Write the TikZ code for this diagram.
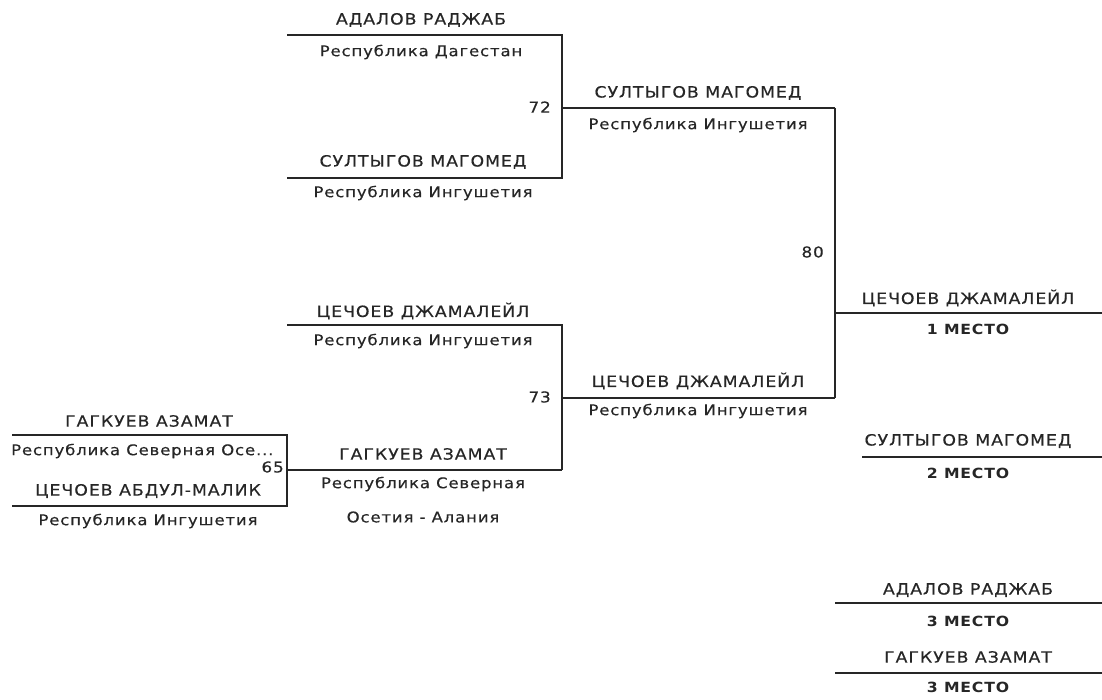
\documentclass[tikz,border=0pt]{standalone}
\usepackage{fontspec}
\setmainfont[FakeStretch=1.12, LetterSpace=6, UprightFeatures={FakeBold=0.35}]{DejaVu Sans}
\begin{document}
\begin{tikzpicture}[x=1pt,y=-1pt,
  bline/.style={line width=1.8pt, color=black!85},
  nm/.style={font=\fontsize{15.5}{16}\selectfont, inner sep=0pt, anchor=center, text=black!85},
  sub/.style={font=\fontsize{14.7}{15}\selectfont, inner sep=0pt, anchor=center, text=black!85},
  plc/.style={font=\bfseries\fontsize{14}{15}\selectfont, inner sep=0pt, anchor=center, text=black!85},
  score/.style={font=\fontsize{15}{16}\selectfont, inner sep=0pt, anchor=east, text=black!85}]
\useasboundingbox (0,0) rectangle (1102,700);
% coordinates
\coordinate (r1a) at (12,435);  \coordinate (r1ae) at (287,435);
\coordinate (r1b) at (12,506);  \coordinate (r1be) at (287,506);
\coordinate (r1o) at (287,470);
\coordinate (qa) at (287,35);   \coordinate (qae) at (562,35);
\coordinate (qb) at (287,178);  \coordinate (qbe) at (562,178);
\coordinate (qo) at (562,108);
\coordinate (qc) at (287,325);  \coordinate (qce) at (562,325);
\coordinate (qd) at (562,470);
\coordinate (qo2) at (562,398);
\coordinate (sa) at (835,108);  \coordinate (sb) at (835,398);
\coordinate (so) at (835,313);  \coordinate (fe) at (1102,313);
\coordinate (p2a) at (862,457); \coordinate (p2b) at (1102,457);
\coordinate (p3a) at (835,603); \coordinate (p3b) at (1102,603);
\coordinate (p4a) at (835,673); \coordinate (p4b) at (1102,673);
% lines
\draw[bline] (r1a) -- (r1ae) -- (r1be) -- (r1b);
\draw[bline] (r1o) -- (qd);
\draw[bline] (qa) -- (qae) -- (qbe) -- (qb);
\draw[bline] (qo) -- (sa);
\draw[bline] (qc) -- (qce) -- (qd);
\draw[bline] (qo2) -- (sb);
\draw[bline] (sa) -- (sb);
\draw[bline] (so) -- (fe);
\draw[bline] (p2a) -- (p2b);
\draw[bline] (p3a) -- (p3b);
\draw[bline] (p4a) -- (p4b);
% round 1
\node[nm] (n1) at (149,421) {ГАГКУЕВ АЗАМАТ};
\node[sub, anchor=west] (s1) at (11,451) {Республика Северная Осе...};
\node[nm] (n2) at (148,491) {ЦЕЧОЕВ АБДУЛ-МАЛИК};
\node[sub] (s2) at (148,521) {Республика Ингушетия};
\node[score] (c65) at (284,467) {65};
% quarter
\node[nm] (n3) at (421,20) {АДАЛОВ РАДЖАБ};
\node[sub] (s3) at (421,52) {Республика Дагестан};
\node[nm] (n4) at (423,162) {СУЛТЫГОВ МАГОМЕД};
\node[sub] (s4) at (423,193) {Республика Ингушетия};
\node[score] (c72) at (551,107) {72};
\node[nm] (n5) at (423,311) {ЦЕЧОЕВ ДЖАМАЛЕЙЛ};
\node[sub] (s5) at (423,341) {Республика Ингушетия};
\node[nm] (n6) at (423,454) {ГАГКУЕВ АЗАМАТ};
\node[sub] (s6) at (423,484) {Республика Северная};
\node[sub] (s6b) at (423,517) {Осетия - Алания};
\node[score] (c73) at (551,397) {73};
% semi
\node[nm] (n7) at (698,93) {СУЛТЫГОВ МАГОМЕД};
\node[sub] (s7) at (698,125) {Республика Ингушетия};
\node[nm] (n8) at (698,381) {ЦЕЧОЕВ ДЖАМАЛЕЙЛ};
\node[sub] (s8) at (698,411) {Республика Ингушетия};
\node[score] (c80) at (824,252) {80};
% final
\node[nm] (n9) at (968,298) {ЦЕЧОЕВ ДЖАМАЛЕЙЛ};
\node[plc] (p1) at (968,329) {1 МЕСТО};
\node[nm] (n10) at (968,441) {СУЛТЫГОВ МАГОМЕД};
\node[plc] (p2) at (968,473) {2 МЕСТО};
\node[nm] (n11) at (968,590) {АДАЛОВ РАДЖАБ};
\node[plc] (p3) at (968,621) {3 МЕСТО};
\node[nm] (n12) at (968,657) {ГАГКУЕВ АЗАМАТ};
\node[plc] (p4) at (968,687) {3 МЕСТО};
\end{tikzpicture}
\end{document}
